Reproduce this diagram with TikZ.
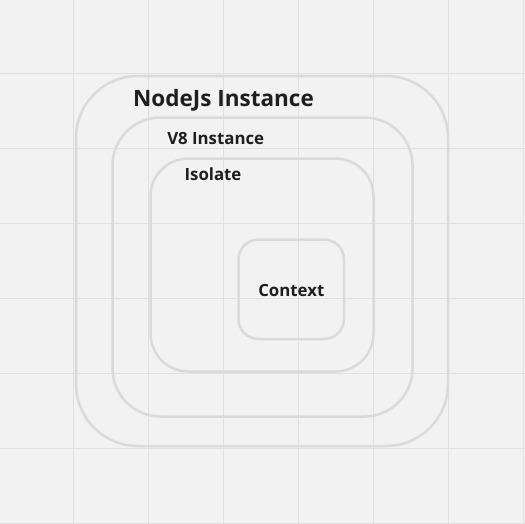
\documentclass[tikz,border=0pt]{standalone}
\usepackage{fontspec}
\setmainfont{Open Sans}
\definecolor{bg}{HTML}{F2F2F2}
\definecolor{gridc}{HTML}{E0E0E0}
\definecolor{boxc}{HTML}{DADADA}
\definecolor{txt}{HTML}{1E1E1E}
\tikzset{
  frame/.style={draw=boxc, line width=2.5pt, rounded corners=#1, inner sep=0pt},
  lbl/.style={text=txt, font=\bfseries\fontsize{#1}{#1}\selectfont, inner sep=0pt, anchor=base},
}
\begin{document}
\begin{tikzpicture}[x=1pt,y=-1pt]
\fill[bg] (0,0) rectangle (525,523);
\useasboundingbox (0,0) rectangle (525,523);
\foreach \g in {73.7,148.7,223.7,298.7,373.7,448.7,523.7}{
  \draw[gridc, line width=1.2pt] (\g,0) -- (\g,523);
  \draw[gridc, line width=1.2pt] (0,\g) -- (525,\g);
}
\draw[frame=62] (76,76) rectangle (448,446);
\draw[frame=48] (112.5,117.5) rectangle (412.5,416.5);
\draw[frame=38] (150.5,158.5) rectangle (373.5,371.5);
\draw[frame=20] (238.5,239.5) rectangle (344,339);
\node[lbl=22.5] (nodejs) at (223.5,106.8) {NodeJs Instance};
\node[lbl=16.8] (v8) at (215.7,144) {V8 Instance};
\node[lbl=16.8] (iso) at (213,180.7) {Isolate};
\node[lbl=16.8] (ctx) at (291.3,296) {Context};
\end{tikzpicture}
\end{document}
